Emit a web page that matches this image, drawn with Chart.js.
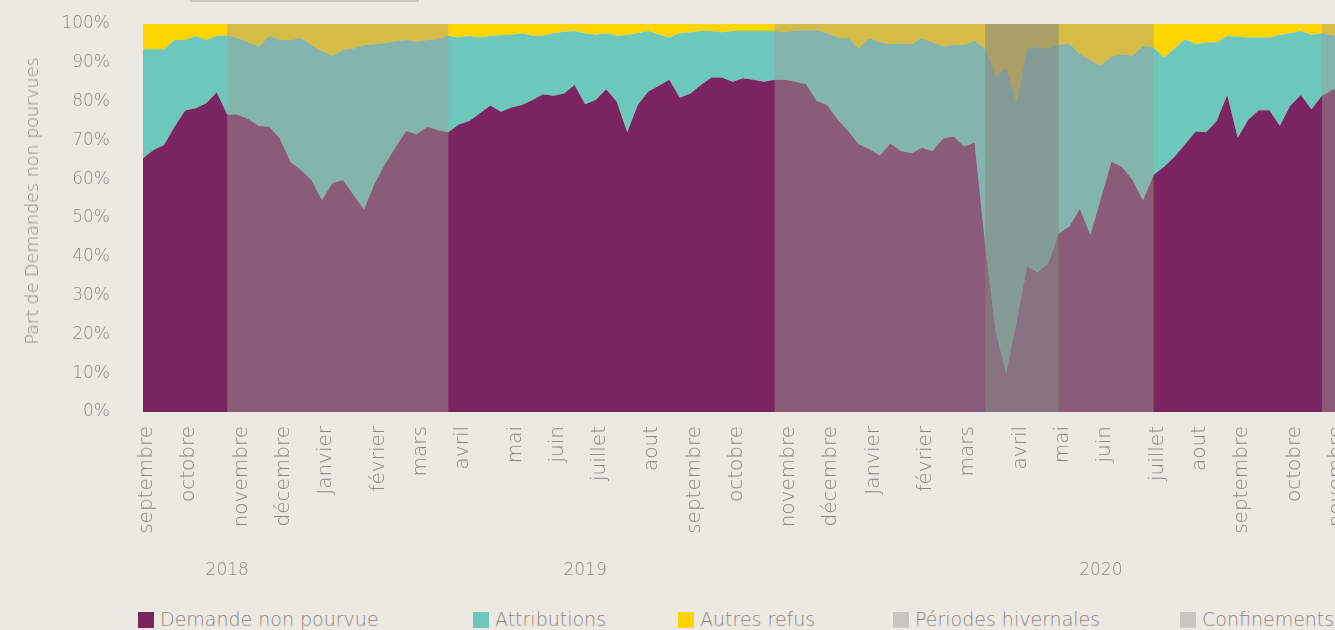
<!DOCTYPE html>
<html lang="fr">
<head>
<meta charset="utf-8">
<title>Part de Demandes non pourvues</title>
<script src="https://cdn.jsdelivr.net/npm/chart.js@4.4.1/dist/chart.umd.min.js"></script>
<style>
    html, body {
        margin: 0;
        padding: 0;
        width: 1335px;
        height: 630px;
        overflow: hidden;
        background: #ece8e2;
        font-family: 'DejaVu Sans', 'Noto Sans', sans-serif;
        font-weight: 200;
        color: #8c8782;
    }
    #wrap {
        position: absolute;
        left: 0;
        top: 0;
        width: 1343px;
        height: 600px;
    }
    .top-rule {
        position: absolute;
        left: 190px;
        top: 0;
        width: 229px;
        height: 2px;
        background: #c9c6c1;
    }
    .y-title {
        position: absolute;
        left: 32px;
        top: 201px;
        transform: translate(-50%, -50%) rotate(-90deg);
        white-space: nowrap;
        font-size: 17.5px;
    }
    .legend-item {
        position: absolute;
        top: 608px;
        font-size: 19px;
        white-space: nowrap;
        line-height: 22px;
    }
    .legend-item span {
        display: inline-block;
        width: 16px;
        height: 16px;
        margin-right: 6px;
        vertical-align: -2px;
    }
</style>
</head>
<body>
<div class="top-rule"></div>
<div id="wrap"><canvas id="chart" width="1343" height="600"></canvas></div>
<div class="y-title">Part de Demandes non pourvues</div>
<div id="legend"></div>

<script>
// Mois affichés sous l'axe (index de la semaine où le mois commence)
const moisNoms = ['septembre', 'octobre', 'novembre', 'décembre', 'Janvier', 'février', 'mars',
    'avril', 'mai', 'juin', 'juillet', 'aout', 'septembre', 'octobre', 'novembre', 'décembre',
    'Janvier', 'février', 'mars', 'avril', 'mai', 'juin', 'juillet', 'aout', 'septembre',
    'octobre', 'novembre'];
const moisSemaine = [0, 4, 9, 13, 17, 22, 26, 30, 35, 39, 43, 48, 52, 56, 61, 65, 69, 74, 78,
    83, 87, 91, 96, 100, 104, 109, 113];

const annees = ['2018', '2019', '2020'];
const anneesSemaine = [8, 42, 91];

// Parts hebdomadaires (%), sept. 2018 -> nov. 2020
const demandeNonPourvue = [
    65.4, 67.5, 68.8, 73.5, 77.7, 78.3, 79.6, 82.4, 76.7, 76.7,
    75.5, 73.7, 73.5, 70.5, 64.5, 62.4, 59.8, 54.6, 59.0, 59.8,
    55.9, 52.2, 58.9, 63.9, 68.3, 72.4, 71.6, 73.5, 72.7, 72.1,
    74.1, 75.0, 77.0, 79.0, 77.4, 78.5, 79.1, 80.4, 81.9, 81.5,
    82.1, 84.3, 79.3, 80.4, 83.2, 80.0, 72.1, 79.1, 82.6, 84.1,
    85.6, 81.0, 82.1, 84.3, 86.2, 86.2, 85.1, 86.0, 85.6, 85.1,
    85.6, 85.6, 85.1, 84.5, 80.2, 79.1, 75.3, 72.4, 69.0, 67.8,
    66.1, 69.2, 67.3, 66.7, 68.1, 67.3, 70.5, 71.0, 68.4, 69.4,
    43.3, 20.7, 10.0, 23.3, 37.5, 36.0, 38.3, 46.0, 47.8, 52.3,
    45.6, 55.1, 64.5, 63.2, 59.8, 54.6, 61.1, 63.2, 65.8, 69.0,
    72.3, 72.1, 75.0, 81.7, 70.7, 75.3, 77.8, 77.8, 73.8, 79.0,
    81.7, 78.0, 81.5, 83.0, 84.1
];
const attributions = [
    28.1, 26.0, 24.7, 22.4, 18.2, 18.6, 16.3, 14.6, 20.3, 19.6,
    19.8, 20.5, 23.4, 25.4, 31.4, 33.9, 34.8, 38.4, 32.8, 33.5,
    37.8, 42.4, 35.9, 31.2, 27.2, 23.5, 23.8, 22.4, 23.3, 24.9,
    22.4, 22.0, 19.5, 18.0, 19.7, 18.7, 18.5, 16.6, 15.1, 16.1,
    15.9, 13.9, 18.3, 16.8, 14.4, 17.0, 25.1, 18.5, 15.6, 13.2,
    10.9, 16.6, 15.8, 13.9, 12.0, 11.7, 13.1, 12.2, 12.6, 13.1,
    12.6, 12.3, 13.2, 13.8, 18.1, 18.5, 21.2, 23.9, 24.7, 28.5,
    29.2, 25.6, 27.7, 28.1, 28.2, 27.9, 23.7, 23.6, 26.2, 26.2,
    50.4, 65.7, 78.6, 56.5, 56.2, 58.0, 55.3, 48.6, 47.2, 39.9,
    45.1, 34.2, 27.1, 29.0, 32.0, 39.7, 32.9, 28.1, 27.9, 27.1,
    22.5, 23.1, 20.3, 15.2, 26.0, 21.2, 18.7, 18.7, 23.4, 18.6,
    16.5, 19.2, 16.1, 14.0, 13.1
];
const autresRefus = [
    6.5, 6.5, 6.5, 4.1, 4.1, 3.1, 4.1, 3.0, 3.0, 3.7,
    4.7, 5.8, 3.1, 4.1, 4.1, 3.7, 5.4, 7.0, 8.2, 6.7,
    6.3, 5.4, 5.2, 4.9, 4.5, 4.1, 4.6, 4.1, 4.0, 3.0,
    3.5, 3.0, 3.5, 3.0, 2.9, 2.8, 2.4, 3.0, 3.0, 2.4,
    2.0, 1.8, 2.4, 2.8, 2.4, 3.0, 2.8, 2.4, 1.8, 2.7,
    3.5, 2.4, 2.1, 1.8, 1.8, 2.1, 1.8, 1.8, 1.8, 1.8,
    1.8, 2.1, 1.7, 1.7, 1.7, 2.4, 3.5, 3.7, 6.3, 3.7,
    4.7, 5.2, 5.0, 5.2, 3.7, 4.8, 5.8, 5.4, 5.4, 4.4,
    6.3, 13.6, 11.4, 20.2, 6.3, 6.0, 6.4, 5.4, 5.0, 7.8,
    9.3, 10.7, 8.4, 7.8, 8.2, 5.7, 6.0, 8.7, 6.3, 3.9,
    5.2, 4.8, 4.7, 3.1, 3.3, 3.5, 3.5, 3.5, 2.8, 2.4,
    1.8, 2.8, 2.4, 3.0, 3.0
];

// Périodes (index de semaine début / fin)
const periodesHivernales = [[8, 29], [60, 80], [87, 96], [112, 114]];
const confinements = [[80, 87]];

const fontFamily = "'DejaVu Sans', 'Noto Sans', sans-serif";
const colors = {
    demande: '#7b2560',
    attributions: '#6cc7bd',
    autres: '#ffd500',
    hiver: 'rgba(160, 158, 156, 0.45)',
    confinement: 'rgba(142, 140, 138, 0.75)',
    swatch: '#c9c6c2',
    text: '#8c8782'
};

const semaines = demandeNonPourvue.map((_, i) => {
    const k = moisSemaine.indexOf(i);
    return k >= 0 ? moisNoms[k] : '';
});

// Zones grisées dessinées par-dessus les aires + années sous l'axe
const periodsPlugin = {
    id: 'periods',
    afterDatasetsDraw(chart) {
        const { ctx, chartArea, scales } = chart;
        const drawBoxes = (list, fill) => {
            ctx.fillStyle = fill;
            list.forEach(([a, b]) => {
                const x0 = scales.x.getPixelForValue(a);
                const x1 = b >= semaines.length - 1 ? chartArea.right : scales.x.getPixelForValue(b);
                ctx.fillRect(x0, chartArea.top, x1 - x0, chartArea.bottom - chartArea.top);
            });
        };
        ctx.save();
        drawBoxes(periodesHivernales, colors.hiver);
        drawBoxes(confinements, colors.confinement);
        ctx.restore();
    },
    afterDraw(chart) {
        const { ctx, scales } = chart;
        ctx.save();
        ctx.font = '200 17px ' + fontFamily;
        ctx.fillStyle = colors.text;
        ctx.textAlign = 'center';
        ctx.textBaseline = 'middle';
        annees.forEach((label, k) => {
            ctx.fillText(label, scales.x.getPixelForValue(anneesSemaine[k]), 571);
        });
        ctx.restore();
    }
};

const chart = new Chart(document.getElementById('chart'), {
    type: 'line',
    data: {
        labels: semaines,
        datasets: [
            {
                label: 'Demande non pourvue',
                data: demandeNonPourvue,
                backgroundColor: colors.demande,
                borderWidth: 0,
                fill: 'origin'
            },
            {
                label: 'Attributions',
                data: attributions,
                backgroundColor: colors.attributions,
                borderWidth: 0,
                fill: '-1'
            },
            {
                label: 'Autres refus',
                data: autresRefus,
                backgroundColor: colors.autres,
                borderWidth: 0,
                fill: '-1'
            }
        ]
    },
    options: {
        responsive: false,
        animation: false,
        events: [],
        layout: { padding: { top: 24, left: 0, right: 0, bottom: 0 } },
        elements: {
            point: { radius: 0 },
            line: { tension: 0, borderWidth: 0 }
        },
        plugins: {
            legend: { display: false },
            tooltip: { enabled: false }
        },
        scales: {
            x: {
                grid: { display: false, drawTicks: false },
                border: { display: false },
                ticks: {
                    autoSkip: false,
                    maxRotation: 90,
                    minRotation: 90,
                    padding: 14,
                    labelOffset: 4,
                    color: colors.text,
                    font: { family: fontFamily, size: 20, weight: '200' }
                },
                afterFit(scale) {
                    scale.height = 188;
                    scale.paddingLeft = 0;
                    scale.paddingRight = 0;
                }
            },
            y: {
                stacked: true,
                min: 0,
                max: 100,
                grid: { display: false, drawTicks: false },
                border: { display: false },
                ticks: {
                    stepSize: 10,
                    padding: 33,
                    color: colors.text,
                    font: { family: fontFamily, size: 17, weight: '200' },
                    callback: v => v + '%'
                },
                afterFit(scale) {
                    scale.width = 143;
                    scale.paddingTop = 0;
                    scale.paddingBottom = 0;
                }
            }
        }
    },
    plugins: [periodsPlugin]
});

// Recale le haut de la zone de tracé sur la ligne des 100 %
const wantedTop = 24;
if (Math.round(chart.chartArea.top) !== wantedTop) {
    chart.options.layout.padding.top += wantedTop - chart.chartArea.top;
    chart.update();
}

// Légende HTML
const legendItems = [
    { label: 'Demande non pourvue', color: colors.demande, left: 138 },
    { label: 'Attributions', color: colors.attributions, left: 473 },
    { label: 'Autres refus', color: colors.autres, left: 678 },
    { label: 'Périodes hivernales', color: colors.swatch, left: 893 },
    { label: 'Confinements', color: colors.swatch, left: 1180 }
];
const legend = document.getElementById('legend');
legendItems.forEach(item => {
    const el = document.createElement('div');
    el.className = 'legend-item';
    el.style.left = item.left + 'px';
    el.innerHTML = '<span style="background:' + item.color + '"></span>' + item.label;
    legend.appendChild(el);
});
</script>
</body>
</html>
